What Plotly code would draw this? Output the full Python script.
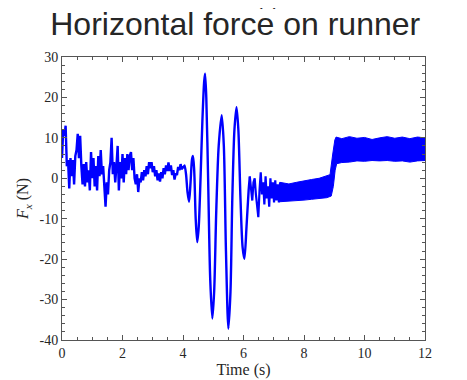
import plotly.graph_objects as go

# ---- data ----
noise_t = [0.00,0.04,0.08,0.12,0.16,0.20,0.24,0.28,0.32,0.36,0.40,0.44,0.48,0.52,0.56,0.60,0.64,0.68,0.72,0.76,
           0.80,0.84,0.88,0.92,0.96,1.00,1.04,1.08,1.12,1.16,1.20,1.24,1.28,1.32,1.36,1.40,1.44,1.48,1.52,1.56,
           1.60,1.64,1.68,1.72,1.76,1.80,1.84,1.88,1.92,1.96,2.00,2.04,2.08,2.12,2.16,2.20,2.24,2.28,2.32,2.36,
           2.40,2.44,2.48,2.52,2.56,2.60,2.64,2.68,2.72,2.76,2.80,2.84,2.88,2.92,2.96,3.00,3.04,3.08,3.12,3.16,
           3.20,3.24,3.28,3.32,3.36,3.40,3.44,3.48,3.52,3.56,3.60,3.64,3.68,3.72,3.76,3.80,3.84,3.88,3.92,3.96,4.00]
noise_f = [5,12,10.5,13,3,4.5,-2.5,5,0.5,4.5,-1.5,5.5,7,11,5,10.5,3,-1.5,3.5,-2,
           4,-1,2,-3,6.5,0,5,-2,3,-3,5.5,0.5,7,1,3,-3.5,-7,-1,-4,2,
           4,10,1,4,-1,3,8,-3,4,0,6,-1,5,1,6,2,5.5,6.5,2,5,
           0,-1.5,1,-3.4,0,-1,1.5,-0.5,2,0.5,3,1,4,2.5,4,1.5,3,0.5,2,-0.5,
           1.2,-0.8,1.5,0,2.5,1,3.2,1.8,3.9,1.8,3.2,0.8,2,-0.3,1.2,0.8,2.8,2,3.5,2.2,3]

osc_t = [4.00,4.05,4.10,4.15,4.20,4.25,4.30,4.33,4.37,4.42,4.47,4.52,4.58,4.64,4.70,4.73,4.77,4.83,4.90,4.97,
         5.03,5.10,5.18,5.28,5.35,5.42,5.50,5.57,5.63,5.70,5.77,5.83,5.90,5.97,6.03,6.10,6.17,6.21]
osc_f = [2.5,3.2,1.0,-3.5,-5.8,-1.0,4.8,5.5,2.0,-10,-15.8,-12,0,14,24,25.9,20,0,-25,-34.7,
         -28,-8,8,15.6,8,-18,-37.2,-28,-5,12,17.6,12,-5,-17,-19.9,-12,-3,0.5]

tail_t = [6.21,6.25,6.29,6.33,6.37,6.41,6.45,6.49,6.53,6.57,6.61,6.65,6.69,6.73,6.77,6.81,6.85,6.89,6.93,6.97,
          7.01,7.05,7.09,7.13,7.17,7.21]
tail_f = [0.3,-3,-5.5,-1,0,-4,-7,-9.6,-3,1.5,-4,-1,-6.5,0.5,-5,-2,-7,0,-5,-1,
          -6,-0.5,-5.5,-1.5,-6,-1]

band_up_t = [7.2,7.5,7.75,8.0,8.25,8.5,8.75,8.86,8.95,9.02,9.06,9.25,9.5,9.75,10.0,10.25,10.5,10.75,11.0,11.25,11.5,11.75,12.0]
band_up_f = [-1.0,-1.4,-1.0,-0.6,-0.3,0.0,0.6,0.9,6.0,9.5,10.2,9.8,10.3,9.9,10.1,9.6,10.0,10.3,9.9,10.2,9.8,10.2,10.0]
band_lo_t = [7.2,7.5,7.75,8.0,8.25,8.5,8.75,8.90,8.97,9.03,9.08,9.25,9.5,9.75,10.0,10.25,10.5,10.75,11.0,11.25,11.5,11.75,12.0]
band_lo_f = [-5.8,-5.7,-5.6,-5.4,-5.2,-5.0,-4.8,-4.4,-2.0,2.0,3.6,3.9,4.0,4.3,4.2,4.4,4.3,4.4,4.2,4.3,4.0,4.3,4.4]

x_ticks = [0, 2, 4, 6, 8, 10, 12]
x_tick_text = ["0", "2", "4", "6", "8", "10", "12"]
y_ticks = [-40, -30, -20, -10, 0, 10, 20, 30]
y_tick_text = ["-40", "-30", "-20", "-10", "0", "10", "20", "30"]

BLUE = "#0000ff"
AX = "#555555"
TXT = "#262626"
SERIF = "Liberation Serif, Times New Roman, serif"

fig = go.Figure()
fig.add_trace(go.Scatter(x=noise_t, y=noise_f, mode="lines", line=dict(color=BLUE, width=2.4), showlegend=False))
fig.add_trace(go.Scatter(x=osc_t, y=osc_f, mode="lines", line=dict(color=BLUE, width=2.4, shape="spline", smoothing=0.8), showlegend=False))
fig.add_trace(go.Scatter(x=tail_t, y=tail_f, mode="lines", line=dict(color=BLUE, width=2.2), showlegend=False))
fig.add_trace(go.Scatter(x=band_lo_t, y=band_lo_f, mode="lines", line=dict(color=BLUE, width=1), showlegend=False))
fig.add_trace(go.Scatter(x=band_up_t, y=band_up_f, mode="lines", line=dict(color=BLUE, width=1),
                         fill="tonexty", fillcolor=BLUE, showlegend=False))

axis_common = dict(showgrid=False, zeroline=False, showline=True, linecolor=AX, linewidth=1,
                   mirror="ticks", ticks="inside", ticklen=5, tickcolor=AX, tickwidth=1,
                   tickfont=dict(family=SERIF, size=14, color=TXT))

fig.update_xaxes(range=[0, 12], tickmode="array", tickvals=x_ticks, ticktext=x_tick_text,
                 minor=dict(dtick=0.5, ticks="inside", ticklen=3, tickcolor=AX),
                 title=dict(text="Time (s)", font=dict(family=SERIF, size=16, color=TXT), standoff=4),
                 **axis_common)
fig.update_yaxes(range=[-40, 30], tickmode="array", tickvals=y_ticks, ticktext=y_tick_text,
                 minor=dict(dtick=2, ticks="inside", ticklen=3, tickcolor=AX),
                 title=dict(text="<i>F<sub>x</sub></i> (N)", font=dict(family=SERIF, size=16, color=TXT), standoff=6),
                 **axis_common)

# page body has an 8px margin, so the figure is sized/offset to land on the reference pixels
fig.update_layout(
    width=459, height=372,
    margin=dict(l=54, r=42, t=49, b=40, autoexpand=False),
    paper_bgcolor="white", plot_bgcolor="white",
    title=dict(text="Horizontal force on runner", x=0.495, xanchor="center", y=1 - 16 / 372, yanchor="middle",
               font=dict(family="Liberation Sans, Arial, sans-serif", size=32, color=TXT)),
    annotations=[dict(text="(c)", xref="paper", yref="paper", x=0.567, y=1.163, xanchor="center", yanchor="bottom",
                      showarrow=False, font=dict(family="Liberation Sans, Arial, sans-serif", size=20, color=TXT))],
)

fig.write_html("out.html")
